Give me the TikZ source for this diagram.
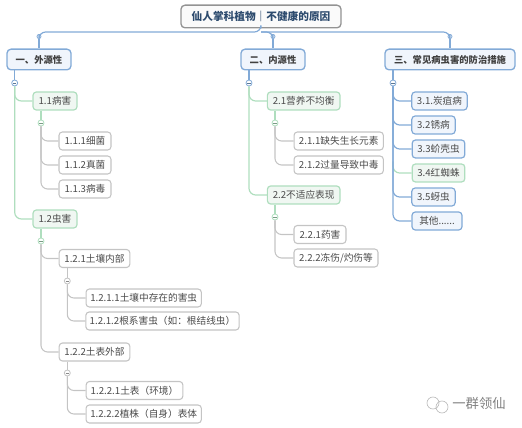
\documentclass[tikz,border=0pt]{standalone}
\usepackage{fontspec}
\usepackage{xcolor}
\setmainfont{Noto Sans CJK SC}
\usetikzlibrary{positioning}
\definecolor{blueline}{RGB}{130, 170, 215}
\definecolor{greenline}{RGB}{175, 222, 190}
\definecolor{grayline}{RGB}{196, 196, 196}
\definecolor{bluefill}{RGB}{240, 245, 252}
\definecolor{greenfill}{RGB}{240, 247, 242}
\definecolor{inktext}{RGB}{75, 75, 75}
\definecolor{roottext}{RGB}{45, 75, 110}
\tikzset{
  rootbox/.style={draw=gray!85, line width=1pt, rounded corners=3pt, fill=gray!4, text=roottext, font=\fontsize{8}{10}\selectfont\bfseries, minimum width=120pt, minimum height=17pt, inner sep=0pt},
  headbox/.style={draw=blueline, line width=1pt, rounded corners=3pt, fill=bluefill, text=black!75, font=\fontsize{7}{9}\selectfont\bfseries, minimum height=15.5pt, inner sep=0pt},
  greenbox/.style={draw=greenline, line width=0.9pt, rounded corners=2.5pt, fill=greenfill, text=inktext, font=\fontsize{7.25}{9}\selectfont, minimum height=13.5pt, inner sep=0pt},
  bluebox/.style={greenbox, draw=blueline, fill=bluefill},
  leafbox/.style={draw=grayline, line width=0.8pt, rounded corners=2.5pt, fill=white, text=inktext, font=\fontsize{7.25}{9}\selectfont, minimum height=13.5pt, inner sep=0pt},
  foldmark/.style={circle, draw=#1, fill=white, line width=0.6pt, minimum size=4.5pt, inner sep=0pt, path picture={\draw[#1!70!black, line width=0.5pt] ([xshift=1pt]path picture bounding box.west) -- ([xshift=-1pt]path picture bounding box.east);}},
  topmark/.style={circle, draw=blueline, fill=white, line width=0.6pt, minimum size=3pt, inner sep=0pt},
  blueedge/.style={draw=blueline, line width=0.9pt, rounded corners=5pt},
  greenedge/.style={draw=greenline, line width=0.9pt, rounded corners=5pt},
  grayedge/.style={draw=grayline, line width=0.8pt, rounded corners=5pt},
}
\begin{document}
\begin{tikzpicture}[x=0.75pt,y=-0.75pt]
\useasboundingbox (0,0) rectangle (522,428);
\coordinate (rootbus) at (261,32);
\node[topmark] (extmark) at (39,36.5) {};
\node[topmark] (innmark) at (273,36.5) {};
\node[topmark] (pestmark) at (450,36.5) {};
\node[rootbox] (root) at (261,16.5) {仙人掌科植物｜不健康的原因};
\node[headbox, minimum width=48pt] (ext) at (39,59.5) {一、外源性};
\node[headbox, minimum width=48pt] (inn) at (273,59.5) {二、内源性};
\node[headbox, minimum width=97.5pt] (pest) at (450,59.5) {三、常见病虫害的防治措施};
\draw[blueedge] (root.south) -- (rootbus) -| (extmark.north);
\draw[blueedge] (rootbus) -| (innmark.north);
\draw[blueedge] (rootbus) -| (pestmark.north);
\draw[blueedge] (extmark) -- (ext);
\draw[blueedge] (innmark) -- (inn);
\draw[blueedge] (pestmark) -- (pest);
% first branch
\node[greenbox, minimum width=33pt] (a1) at (55,101) {1.1病害};
\node[greenbox, minimum width=33pt] (a2) at (55,219) {1.2虫害};
\node[leafbox, minimum width=39pt] (a11) at (85,141) {1.1.1细菌};
\node[leafbox, minimum width=39pt] (a12) at (85,165) {1.1.2真菌};
\node[leafbox, minimum width=39pt] (a13) at (85,189) {1.1.3病毒};
\node[leafbox, minimum width=53pt] (a21) at (94.5,258.5) {1.2.1土壤内部};
\node[leafbox, minimum width=53pt] (a22) at (94.5,352) {1.2.2土表外部};
\node[leafbox, minimum width=86.5pt] (a211) at (143.7,298) {1.2.1.1土壤中存在的害虫};
\node[leafbox, minimum width=115pt] (a212) at (162.5,321) {1.2.1.2根系害虫（如：根结线虫）};
\node[leafbox, minimum width=72.5pt] (a221) at (134.5,390.5) {1.2.2.1土表（环境）};
\node[leafbox, minimum width=86.5pt] (a222) at (143.7,414) {1.2.2.2植株（自身）表体};
\node[foldmark=blueline] (extfold) at (14.7,83) {};
\node[foldmark=greenline] (a1fold) at (41,123) {};
\node[foldmark=greenline] (a2fold) at (41,241) {};
\node[foldmark=grayline] (a21fold) at (67.3,281) {};
\node[foldmark=grayline] (a22fold) at (67.3,373) {};
\draw[blueedge] (extfold |- ext.south) -- (extfold);
\draw[greenedge] (extfold.south) |- (a1.west);
\draw[greenedge] (extfold.south) |- (a2.west);
\draw[greenedge] (a1fold |- a1.south) -- (a1fold);
\draw[greenedge] (a2fold |- a2.south) -- (a2fold);
\draw[grayedge] (a1fold.south) |- (a11.west);
\draw[grayedge] (a1fold.south) |- (a12.west);
\draw[grayedge] (a1fold.south) |- (a13.west);
\draw[grayedge] (a2fold.south) |- (a21.west);
\draw[grayedge] (a2fold.south) |- (a22.west);
\draw[grayedge] (a21fold |- a21.south) -- (a21fold);
\draw[grayedge] (a22fold |- a22.south) -- (a22fold);
\draw[grayedge] (a21fold.south) |- (a211.west);
\draw[grayedge] (a21fold.south) |- (a212.west);
\draw[grayedge] (a22fold.south) |- (a221.west);
\draw[grayedge] (a22fold.south) |- (a222.west);
% second branch
\node[greenbox, minimum width=54.5pt] (b1) at (303.7,101) {2.1营养不均衡};
\node[greenbox, minimum width=54.5pt] (b2) at (303.7,195) {2.2不适应表现};
\node[leafbox, minimum width=67pt] (b11) at (338.7,141) {2.1.1缺失生长元素};
\node[leafbox, minimum width=67pt] (b12) at (338.7,165) {2.1.2过量导致中毒};
\node[leafbox, minimum width=39pt] (b21) at (320,234.5) {2.2.1药害};
\node[leafbox, minimum width=63pt] (b22) at (336,258) {2.2.2冻伤/灼伤等};
\node[foldmark=blueline] (innfold) at (249,83) {};
\node[foldmark=greenline] (b1fold) at (275,123) {};
\node[foldmark=greenline] (b2fold) at (275,217) {};
\draw[blueedge] (innfold |- inn.south) -- (innfold);
\draw[greenedge] (innfold.south) |- (b1.west);
\draw[greenedge] (innfold.south) |- (b2.west);
\draw[greenedge] (b1fold |- b1.south) -- (b1fold);
\draw[greenedge] (b2fold |- b2.south) -- (b2fold);
\draw[grayedge] (b1fold.south) |- (b11.west);
\draw[grayedge] (b1fold.south) |- (b12.west);
\draw[grayedge] (b2fold.south) |- (b21.west);
\draw[grayedge] (b2fold.south) |- (b22.west);
% third branch
\node[bluebox, minimum width=41.5pt] (c1) at (439.5,101) {3.1.炭疽病};
\node[bluebox, minimum width=32.5pt] (c2) at (433.5,125) {3.2锈病};
\node[bluebox, minimum width=39.5pt] (c3) at (438.5,149) {3.3蚧壳虫};
\node[greenbox, minimum width=39.5pt] (c4) at (438.5,173) {3.4红蜘蛛};
\node[bluebox, minimum width=32.5pt] (c5) at (433.5,197) {3.5蚜虫};
\node[bluebox, minimum width=37.5pt] (c6) at (437,221) {其他......};
\node[foldmark=blueline] (pestfold) at (393,83) {};
\draw[blueedge] (pestfold |- pest.south) -- (pestfold);
\draw[greenedge] (pestfold.south) ++(0,75) |- (c4.west);
\foreach \n in {c1,c2,c3,c5,c6}
  \draw[blueedge] (pestfold.south) |- (\n.west);
% corner mark
\begin{scope}[gray!55, line width=0.5pt]
\draw (433,403) circle (4.5pt);
\draw (442,407) circle (4.5pt);
\end{scope}
\node[text=gray, font=\fontsize{10}{12}\selectfont] (markname) at (479,403) {一群领仙};
\end{tikzpicture}
\end{document}
